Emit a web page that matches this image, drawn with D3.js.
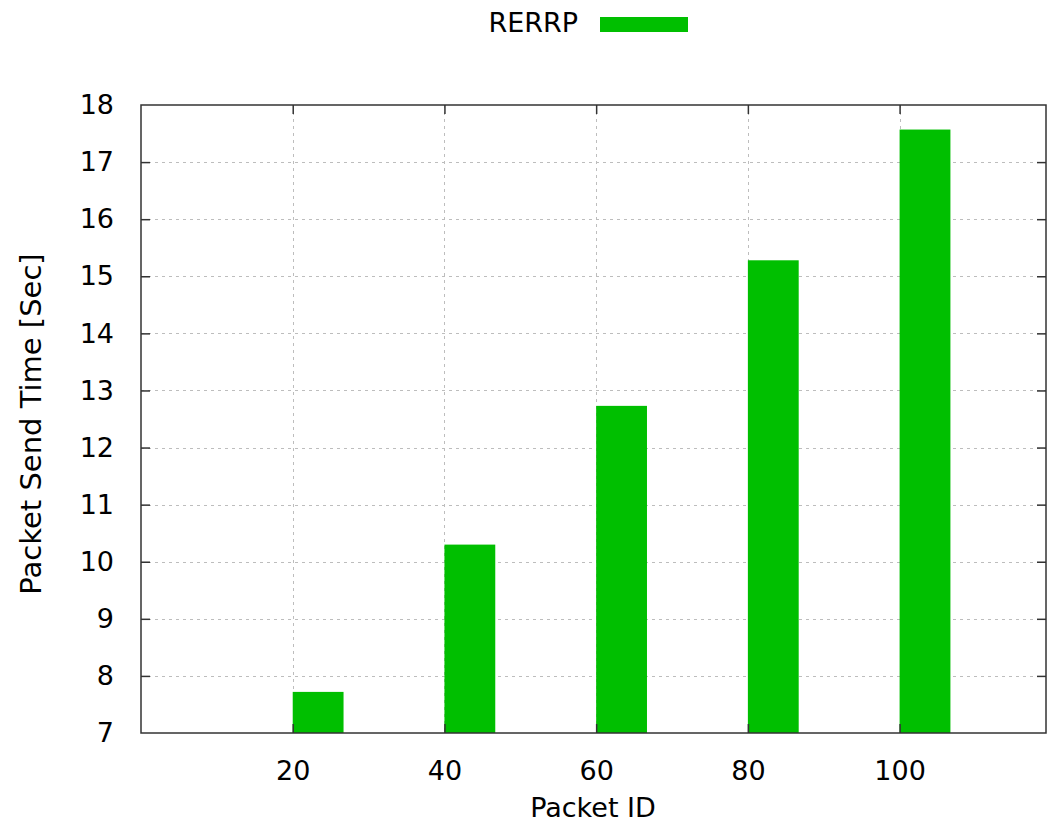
<!DOCTYPE html>
<html>
<head>
<meta charset="utf-8">
<script src="https://cdn.jsdelivr.net/npm/d3@7"></script>
<style>
  html, body { margin: 0; padding: 0; background: #fff; }
  svg { display: block; }
  text { font-family: "DejaVu Sans", sans-serif; fill: #000; }
</style>
</head>
<body>
<svg id="chart" width="1047" height="827"></svg>
<script>
const packetIds = [20, 40, 60, 80, 100];
const sendTimes = [7.72, 10.30, 12.73, 15.28, 17.57];
const seriesName = "RERRP";
const xTicks = [20, 40, 60, 80, 100];
const yTicks = [7, 8, 9, 10, 11, 12, 13, 14, 15, 16, 17, 18];
const xTitle = "Packet ID";
const yTitle = "Packet Send Time [Sec]";

const W = 1047, H = 827;
const m = { left: 141, right: 1046, top: 105, bottom: 733 };
const barW = 6.7; // in data units
const green = "#00bf00";
const fs = 27;

const svg = d3.select("#chart");
const x = d3.scaleLinear().domain([0, 119.3]).range([m.left, m.right]);
const y = d3.scaleLinear().domain([7, 18]).range([m.bottom, m.top]);

// grid
const grid = svg.append("g").attr("stroke", "#bdbdbd").attr("stroke-width", 1).attr("stroke-dasharray", "3,4");
grid.selectAll("line.h").data(yTicks.filter(d => d > 7 && d < 18)).join("line")
  .attr("x1", m.left).attr("x2", m.right)
  .attr("y1", d => Math.round(y(d)) + 0.5).attr("y2", d => Math.round(y(d)) + 0.5);
grid.selectAll("line.v").data(xTicks).join("line")
  .attr("x1", d => Math.round(x(d)) + 0.5).attr("x2", d => Math.round(x(d)) + 0.5)
  .attr("y1", m.top).attr("y2", m.bottom);

// bars
svg.append("g").selectAll("rect").data(packetIds).join("rect")
  .attr("x", d => x(d))
  .attr("width", d => x(d + barW) - x(d))
  .attr("y", (d, i) => y(sendTimes[i]))
  .attr("height", (d, i) => y(7) - y(sendTimes[i]))
  .attr("fill", green);

// axes
const tl = 9;
const axL = svg.append("g").attr("transform", `translate(${m.left},0)`)
  .call(d3.axisLeft(y).tickValues(yTicks).tickSize(-tl).tickPadding(tl + 18).tickFormat(d3.format("d")));
const axB = svg.append("g").attr("transform", `translate(0,${m.bottom})`)
  .call(d3.axisBottom(x).tickValues(xTicks).tickSize(-tl).tickPadding(tl + 19).tickFormat(d3.format("d")));
const axR = svg.append("g").attr("transform", `translate(${m.right},0)`)
  .call(d3.axisRight(y).tickValues(yTicks).tickSize(-tl).tickFormat(""));
const axT = svg.append("g").attr("transform", `translate(0,${m.top})`)
  .call(d3.axisTop(x).tickValues(xTicks).tickSize(-tl).tickFormat(""));
[axL, axB, axR, axT].forEach(a => {
  a.select(".domain").remove();
  a.selectAll(".tick line").attr("stroke", "#333").attr("stroke-width", 1.5);
  a.selectAll(".tick text").attr("font-size", fs).attr("font-family", "DejaVu Sans, sans-serif").attr("fill", "#000");
});
axR.selectAll(".tick line").filter(d => d === 7 || d === 18).remove();
axL.selectAll(".tick line").filter(d => d === 7 || d === 18).remove();

// border
svg.append("rect").attr("x", m.left).attr("y", m.top)
  .attr("width", m.right - m.left).attr("height", m.bottom - m.top)
  .attr("fill", "none").attr("stroke", "#333").attr("stroke-width", 1.5);

// titles
svg.append("text").attr("x", 593).attr("y", 817)
  .attr("text-anchor", "middle").attr("font-size", fs).text(xTitle);
svg.append("text").attr("transform", `translate(41,424) rotate(-90)`)
  .attr("text-anchor", "middle").attr("font-size", 29).text(yTitle);

// legend
svg.append("text").attr("x", 578).attr("y", 32).attr("text-anchor", "end")
  .attr("font-size", fs).text(seriesName);
svg.append("rect").attr("x", 600).attr("y", 17).attr("width", 88).attr("height", 15).attr("fill", green);
</script>
</body>
</html>
